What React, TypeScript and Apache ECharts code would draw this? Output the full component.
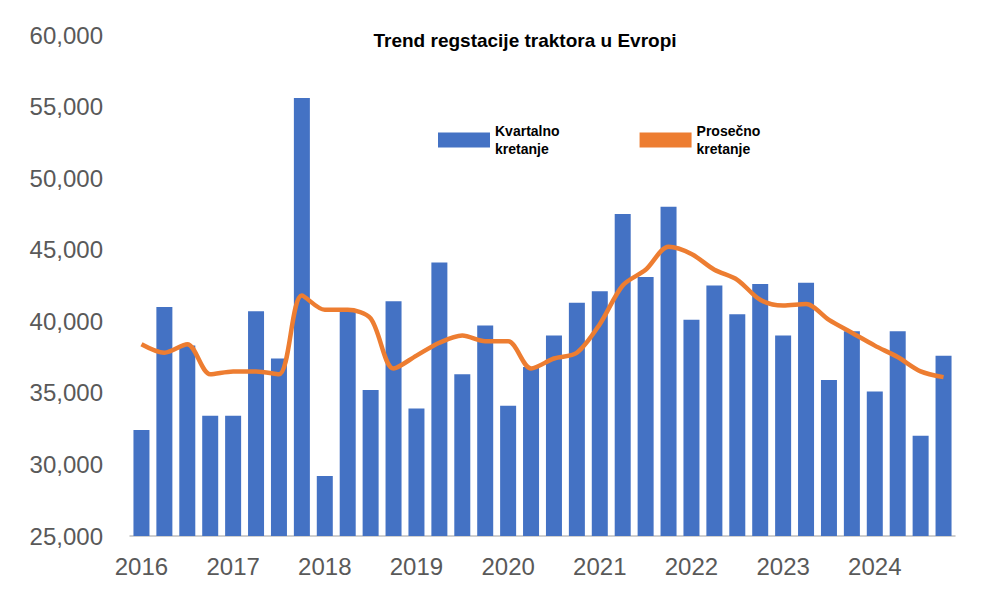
import { useEffect, useRef } from 'react'
import * as echarts from 'echarts'

const years = ['2016', '2017', '2018', '2019', '2020', '2021', '2022', '2023', '2024']
const quarters = years.flatMap((y) => ['Q1', 'Q2', 'Q3', 'Q4'].map((q) => `${y} ${q}`))

// kvartalne registracije
const quarterly = [
  32.4, 41.0, 38.3, 33.4, 33.4, 40.7, 37.4, 55.6, 29.2, 40.7, 35.2, 41.4, 33.9, 44.1, 36.3, 39.7, 34.1,
  36.8, 39.0, 41.3, 42.1, 47.5, 43.1, 48.0, 40.1, 42.5, 40.5, 42.6, 39.0, 42.7, 35.9, 39.3, 35.1, 39.3,
  32.0, 37.6,
].map((v) => v * 1000)

// prosečno kretanje
const average = [
  38.4, 37.8, 38.4, 36.3, 36.5, 36.5, 36.3, 41.8, 40.8, 40.8, 40.2, 36.7, 37.6, 38.5, 39.0, 38.6, 38.6,
  36.7, 37.4, 37.8, 39.8, 42.5, 43.6, 45.2, 44.7, 43.6, 42.9, 41.5, 41.1, 41.2, 40.1, 39.2, 38.3, 37.5,
  36.5, 36.1,
].map((v) => v * 1000)

export default function App() {
  const elRef = useRef<HTMLDivElement>(null)

  useEffect(() => {
    document.body.style.margin = '0'
    if (!elRef.current) return
    const chart = echarts.init(elRef.current, undefined, { renderer: 'svg' })
    chart.setOption({
      animation: false,
      backgroundColor: '#fff',
      textStyle: { fontFamily: 'Liberation Sans, Arial, sans-serif' },
      title: {
        text: 'Trend regstacije traktora u Evropi',
        left: 520,
        top: 26,
        textAlign: 'center',
        textStyle: { fontSize: 19, fontWeight: 'bold', color: '#000' },
      },
      legend: {
        left: 433,
        top: 117,
        itemWidth: 52,
        itemHeight: 15,
        itemGap: 80,
        textStyle: { fontSize: 14, fontWeight: 'bold', color: '#000', lineHeight: 18 },
        data: [
          { name: 'Kvartalno\nkretanje', icon: 'rect' },
          { name: 'Prosečno\nkretanje', icon: 'rect', itemStyle: { color: '#ED7D31' } },
        ],
      },
      grid: { left: 130, right: 41, top: 35, bottom: 64 },
      xAxis: {
        type: 'category',
        data: quarters,
        axisTick: { show: false },
        axisLine: { lineStyle: { color: '#bfbfbf', width: 1.5 } },
        axisLabel: {
          interval: 0,
          margin: 18,
          fontSize: 24,
          color: '#595959',
          formatter: (v: string) => (v.endsWith('Q1') ? v.slice(0, 4) : ''),
        },
      },
      yAxis: {
        type: 'value',
        min: 25000,
        max: 60000,
        interval: 5000,
        splitLine: { show: false },
        axisLabel: {
          margin: 27,
          fontSize: 24,
          color: '#595959',
          formatter: (v: number) => v.toLocaleString('en-US'),
        },
      },
      series: [
        {
          name: 'Kvartalno\nkretanje',
          type: 'bar',
          data: quarterly,
          barWidth: 16,
          itemStyle: { color: '#4472C4' },
        },
        {
          name: 'Prosečno\nkretanje',
          type: 'line',
          data: average,
          smooth: 0.3,
          symbol: 'none',
          lineStyle: { color: '#ED7D31', width: 4.5 },
          itemStyle: { color: '#ED7D31' },
        },
      ],
    })
    return () => chart.dispose()
  }, [])

  return <div ref={elRef} style={{ width: 996, height: 600 }} />
}
